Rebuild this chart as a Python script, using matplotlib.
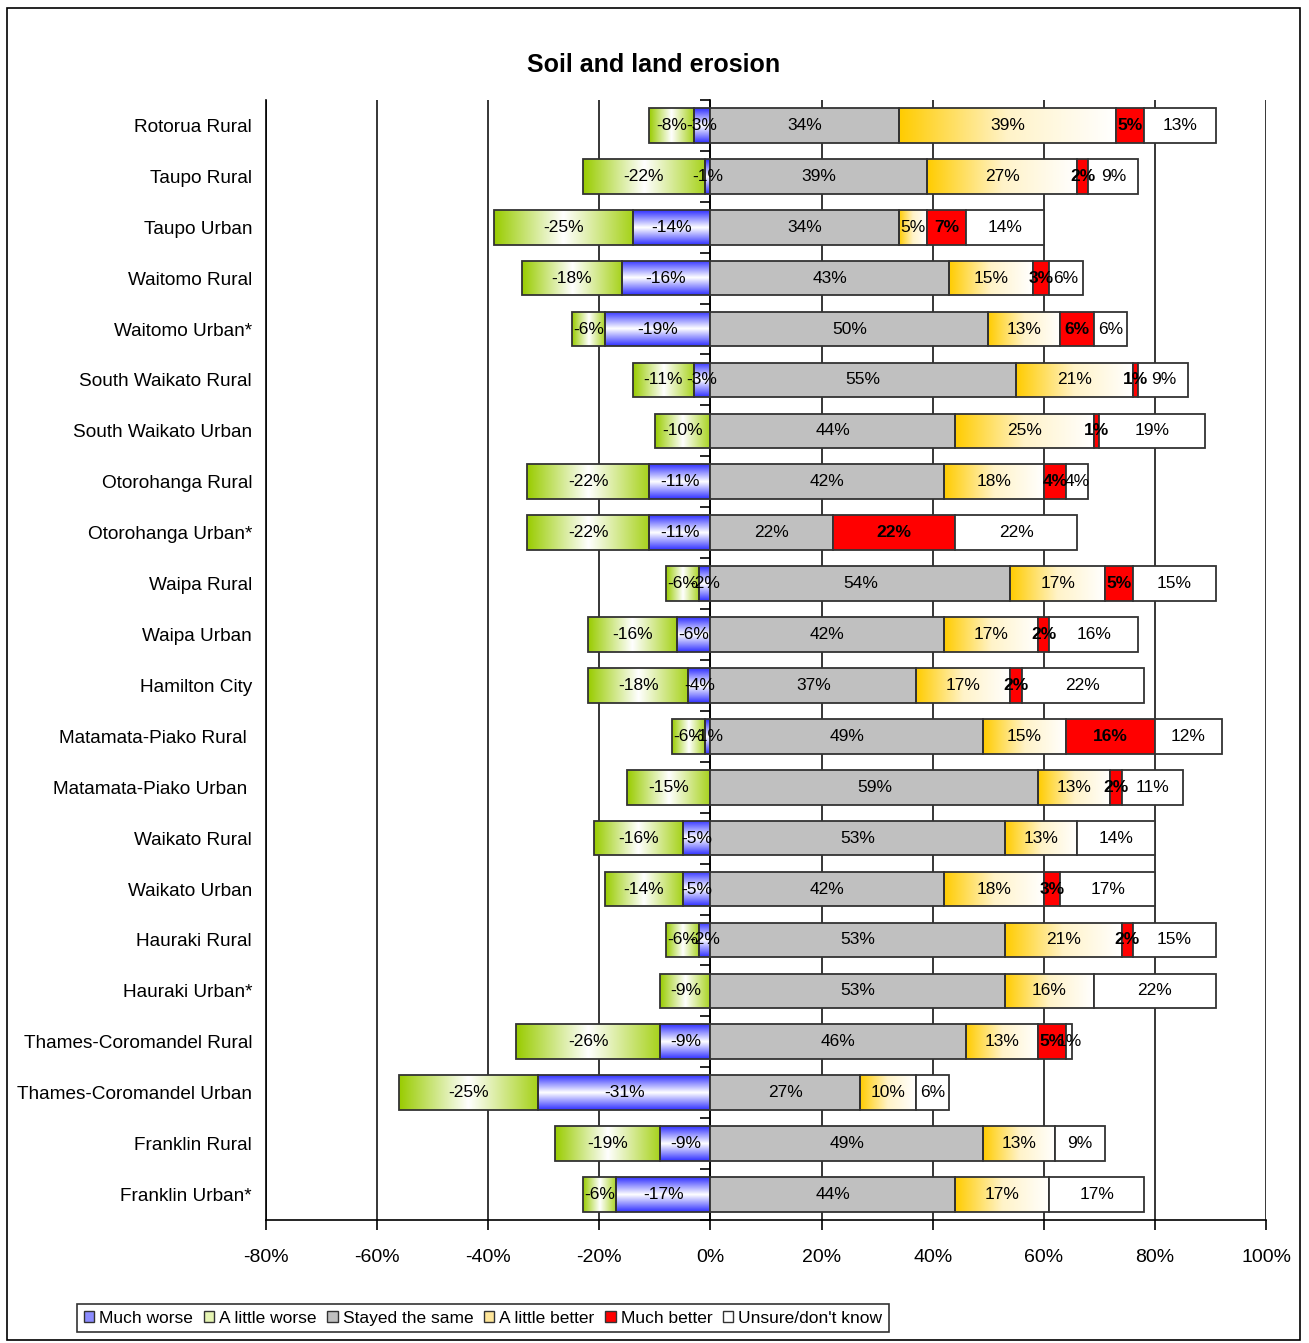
import numpy as np
import matplotlib
matplotlib.use("Agg")
import matplotlib.pyplot as plt
from matplotlib.colors import LinearSegmentedColormap
from matplotlib.patches import Patch, Rectangle
from matplotlib.ticker import FuncFormatter

# data, top row first
categories = [
    "Rotorua Rural", "Taupo Rural", "Taupo Urban", "Waitomo Rural", "Waitomo Urban*",
    "South Waikato Rural", "South Waikato Urban", "Otorohanga Rural", "Otorohanga Urban*",
    "Waipa Rural", "Waipa Urban", "Hamilton City", "Matamata-Piako Rural ",
    "Matamata-Piako Urban ", "Waikato Rural", "Waikato Urban", "Hauraki Rural",
    "Hauraki Urban*", "Thames-Coromandel Rural", "Thames-Coromandel Urban",
    "Franklin Rural", "Franklin Urban*",
]
much_worse = [3, 1, 14, 16, 19, 3, 0, 11, 11, 2, 6, 4, 1, 0, 5, 5, 2, 0, 9, 31, 9, 17]
little_worse = [8, 22, 25, 18, 6, 11, 10, 22, 22, 6, 16, 18, 6, 15, 16, 14, 6, 9, 26, 25, 19, 6]
same = [34, 39, 34, 43, 50, 55, 44, 42, 22, 54, 42, 37, 49, 59, 53, 42, 53, 53, 46, 27, 49, 44]
little_better = [39, 27, 5, 15, 13, 21, 25, 18, 0, 17, 17, 17, 15, 13, 13, 18, 21, 16, 13, 10, 13, 17]
much_better = [5, 2, 7, 3, 6, 1, 1, 4, 22, 5, 2, 2, 16, 2, 0, 3, 2, 0, 5, 0, 0, 0]
unsure = [13, 9, 14, 6, 6, 9, 19, 4, 22, 15, 16, 22, 12, 11, 14, 17, 15, 22, 1, 6, 9, 17]
legend_names = ["Much worse", "A little worse", "Stayed the same",
                "A little better", "Much better", "Unsure/don't know"]

plt.rcParams["font.family"] = ["Liberation Sans", "DejaVu Sans"]

edge = "#333333"
y = np.arange(len(categories))
mw = np.array(much_worse)
lw_ = np.array(little_worse)
sm = np.array(same)
lb = np.array(little_better)
mb = np.array(much_better)

fig = plt.figure(figsize=(13.09, 13.43), dpi=100)
ax = fig.add_axes([0.2032, 0.0916, 0.764, 0.834])

h = 0.68
kw = dict(height=h, edgecolor=edge, linewidth=1.3, zorder=3)
b_mw = ax.barh(y, -mw, facecolor="none", **kw)
b_lw = ax.barh(y, -lw_, left=-mw, facecolor="none", **kw)
b_sm = ax.barh(y, sm, facecolor="#c0c0c0", **kw)
b_lb = ax.barh(y, lb, left=sm, facecolor="none", **kw)
b_mb = ax.barh(y, mb, left=sm + lb, facecolor="#ff0000", **kw)
b_un = ax.barh(y, unsure, left=sm + lb + mb, facecolor="white", **kw)

blue_cm = LinearSegmentedColormap.from_list("b", ["#3030ff", "#ffffff", "#3030ff"])
green_cm = LinearSegmentedColormap.from_list("g", [(0, "#99cc00"), (0.5, "#ffffff"), (1, "#a6d21a")])
yellow_cm = LinearSegmentedColormap.from_list("y", ["#ffcc00", "#fff3c8", "#ffffff"])


def fill_gradient(bars, cmap, vertical=False):
    grad = np.linspace(0, 1, 256)
    img = grad.reshape(-1, 1) if vertical else grad.reshape(1, -1)
    for bar in bars:
        x0, y0 = bar.get_xy()
        w, hh = bar.get_width(), bar.get_height()
        if w == 0:
            continue
        xa, xb = min(x0, x0 + w), max(x0, x0 + w)
        im = ax.imshow(img, cmap=cmap, aspect="auto", interpolation="bilinear",
                       extent=[xa, xb, y0 + hh, y0], zorder=2)
        im.set_clip_path(bar)


fill_gradient(b_mw, blue_cm, vertical=True)
fill_gradient(b_lw, green_cm)
fill_gradient(b_lb, yellow_cm)

# segment labels
for cont, vals, neg, bold in [(b_mw, much_worse, True, False), (b_lw, little_worse, True, False),
                              (b_sm, same, False, False), (b_lb, little_better, False, False),
                              (b_mb, much_better, False, True), (b_un, unsure, False, False)]:
    labs = [("" if v == 0 else (f"-{v}%" if neg else f"{v}%")) for v in vals]
    ax.bar_label(cont, labels=labs, label_type="center", fontsize=12.5,
                 fontweight="bold" if bold else "normal", color="black", zorder=5)

ax.set_xlim(-80, 100)
ax.set_ylim(len(categories) - 0.5, -0.5)
ax.set_xticks(np.arange(-80, 101, 20))
ax.xaxis.set_major_formatter(FuncFormatter(lambda v, p: f"{v:.0f}%"))
ax.tick_params(axis="x", direction="out", length=7, width=1.2, labelsize=14, pad=14, color="black")
ax.set_yticks(y)
ax.set_yticklabels(categories, fontsize=13.7)
ax.tick_params(axis="y", length=0, pad=10)
ax.grid(axis="x", color="black", linewidth=1.1)
ax.set_axisbelow(True)
for s in ["top", "right"]:
    ax.spines[s].set_visible(False)
for s in ["left", "bottom"]:
    ax.spines[s].set_color("black")
    ax.spines[s].set_linewidth(1.2)

# category axis at 0%
sec = ax.secondary_yaxis(80 / 180)
sec.set_yticks(np.arange(-0.5, len(categories), 1.0))
sec.set_yticklabels([])
sec.tick_params(direction="out", length=7, width=1.2)
sec.spines["left"].set_linewidth(1.2)

fig.text(0.4996, 0.9516, "Soil and land erosion", ha="center", va="center",
         fontsize=18, fontweight="bold")

handles = [Patch(facecolor="#8c8cff", edgecolor=edge), Patch(facecolor="#e6f5b3", edgecolor=edge),
           Patch(facecolor="#c0c0c0", edgecolor=edge), Patch(facecolor="#ffe699", edgecolor=edge),
           Patch(facecolor="#ff0000", edgecolor=edge), Patch(facecolor="white", edgecolor=edge)]
leg = fig.legend(handles, legend_names, loc="center", bbox_to_anchor=(0.369, 0.0186), ncol=6,
                 fontsize=12.5, frameon=True, fancybox=False, handlelength=0.6, handleheight=0.6,
                 handletextpad=0.3, columnspacing=0.6, borderpad=0.4, borderaxespad=0)
leg.get_frame().set_edgecolor("black")
leg.get_frame().set_linewidth(1.2)

# outer chart border
fig.patches.append(Rectangle((7 / 1309, 3 / 1343), 1293 / 1309, 1332 / 1343, transform=fig.transFigure,
                             fill=False, edgecolor="black", linewidth=1.2))

plt.savefig("out.png", dpi=100)
